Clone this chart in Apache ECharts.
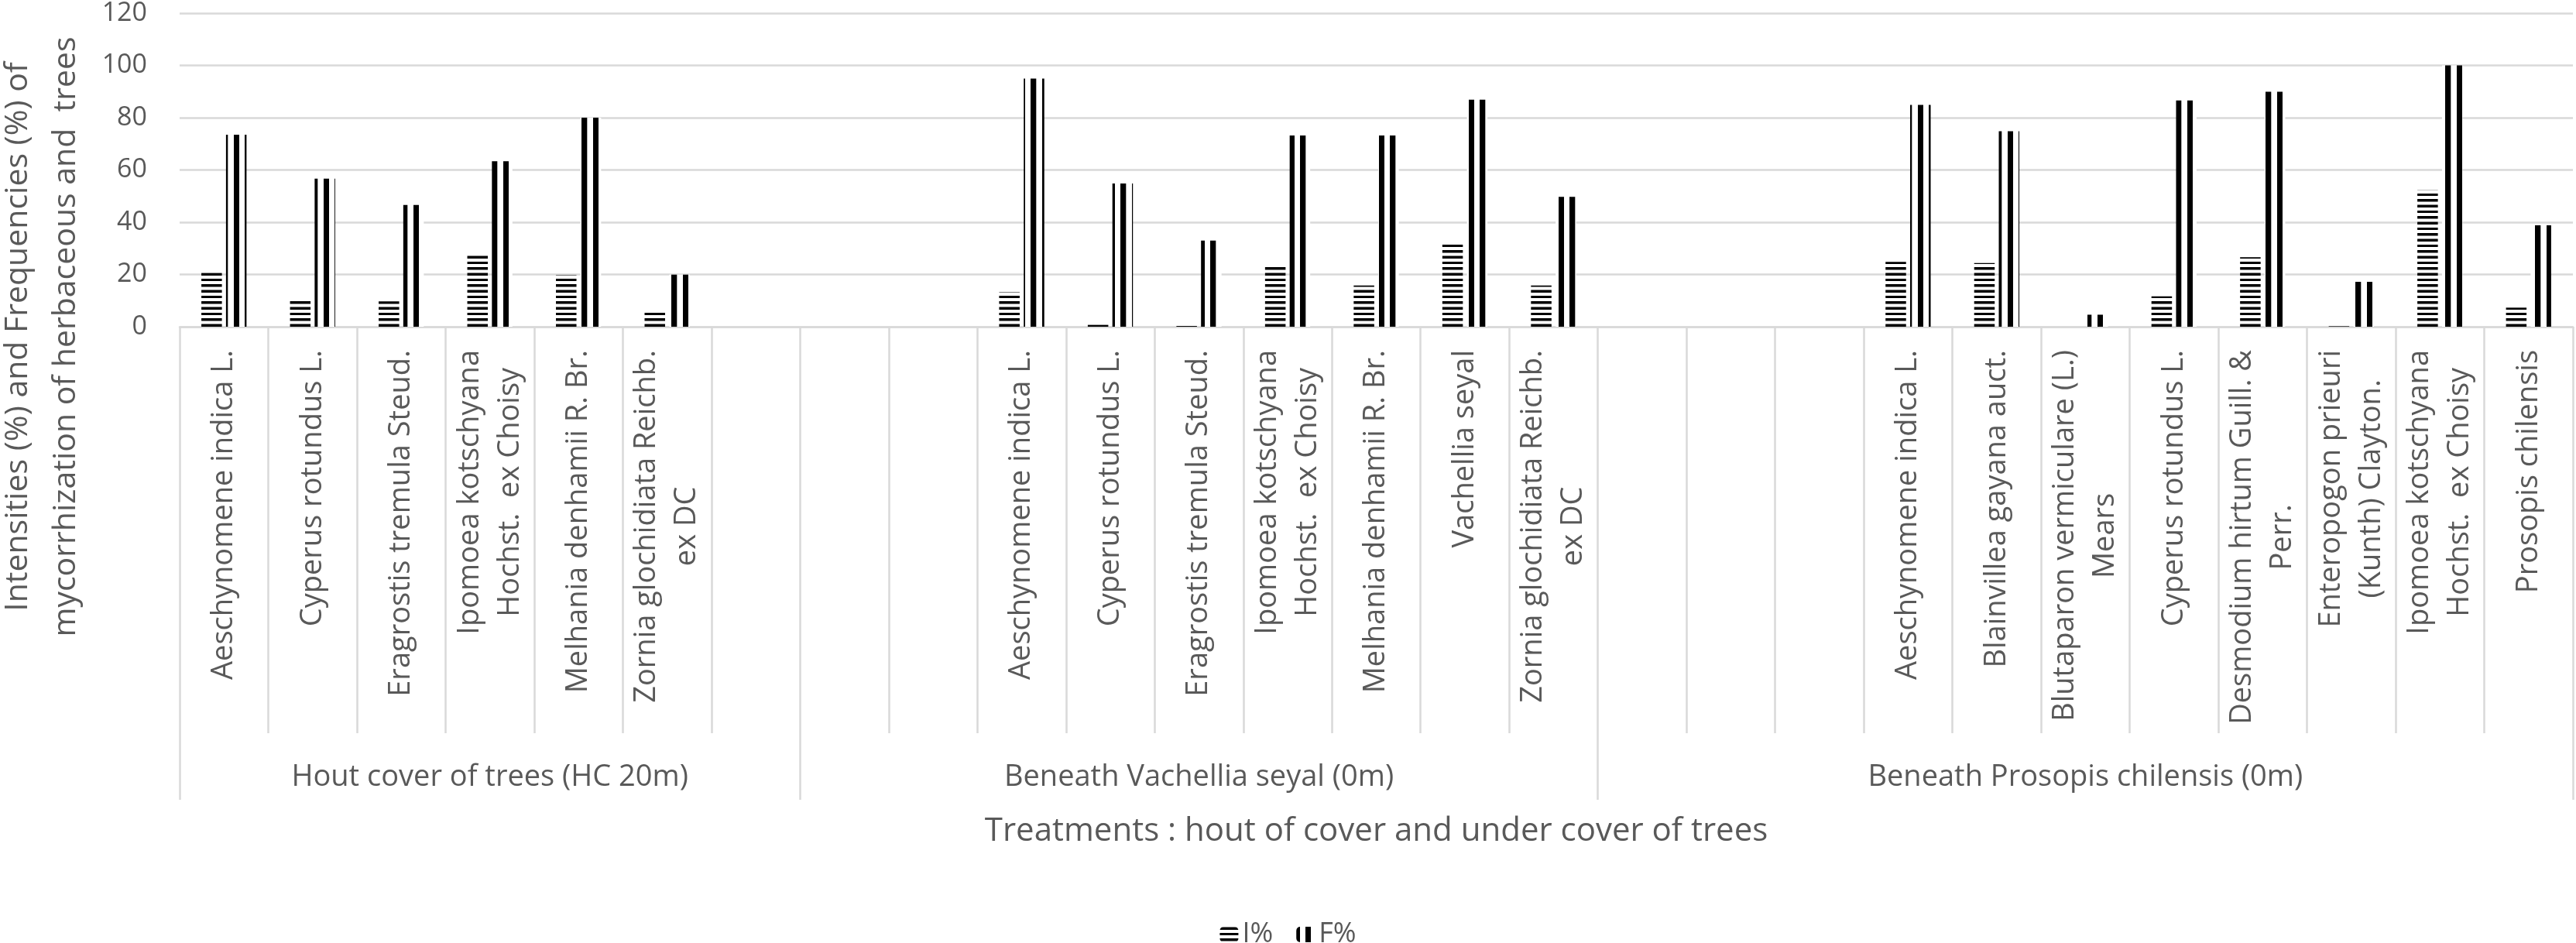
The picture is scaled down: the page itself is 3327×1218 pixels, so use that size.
<!DOCTYPE html>
<html>
<head>
<meta charset="utf-8">
<script src="https://cdn.jsdelivr.net/npm/echarts@6/dist/echarts.min.js"></script>
<style>
html,body{margin:0;padding:0;background:#fff;}
#chart{width:3327px;height:1218px;}
</style>
</head>
<body>
<div id="chart"></div>
<script>
// ---------------- DATA ----------------
const categories = [
  // Hout cover of trees (HC 20m)
  'Aeschynomene indica L.', 'Cyperus rotundus L.', 'Eragrostis tremula Steud.',
  'Ipomoea kotschyana\nHochst.  ex Choisy', 'Melhania denhamii R. Br.',
  'Zornia glochidiata Reichb.\nex DC', '',
  // Beneath Vachellia seyal (0m)
  '', '', 'Aeschynomene indica L.', 'Cyperus rotundus L.', 'Eragrostis tremula Steud.',
  'Ipomoea kotschyana\nHochst.  ex Choisy', 'Melhania denhamii R. Br.', 'Vachellia seyal',
  'Zornia glochidiata Reichb.\nex DC',
  // Beneath Prosopis chilensis (0m)
  '', '', '', 'Aeschynomene indica L.', 'Blainvillea gayana auct.',
  'Blutaparon vermiculare (L.)\nMears', 'Cyperus rotundus L.', 'Desmodium hirtum Guill. &\nPerr.',
  'Enteropogon prieuri\n(Kunth) Clayton.', 'Ipomoea kotschyana\nHochst.  ex Choisy', 'Prosopis chilensis'
];
const iValues = [
  20.7, 10.0, 9.7, 27.4, 19.7, 5.5, null,
  null, null, 13.2, 0.7, 0.3, 24.0, 15.8, 31.5, 15.8,
  null, null, null, 24.8, 24.4, 0, 11.6, 26.6, 0.2, 52.2, 7.3
];
const fValues = [
  73.5, 56.7, 46.6, 63.3, 80.0, 19.9, null,
  null, null, 95.0, 54.8, 33.0, 73.2, 73.2, 86.9, 49.7,
  null, null, null, 84.9, 74.8, 4.6, 86.6, 89.9, 17.2, 100, 38.8
];
const groupNames = ['Hout cover of trees (HC 20m)', 'Beneath Vachellia seyal (0m)', 'Beneath Prosopis chilensis (0m)'];
const groupSizes = [7, 9, 11];
const seriesNames = ['I%', 'F%'];
const yTitle = 'Intensities (%) and Frequencies (%) of\nmycorrhization of herbaceous and  trees';
const xTitle = 'Treatments : hout of cover and under cover of trees';

// ---------------- HELPERS ----------------
const FONT = "'Open Sans', 'Noto Sans', sans-serif";
const TXT = '#595959';
const GRID = '#d9d9d9';

const groupStarts = [];
const groupSlotLabels = categories.map(() => '');
(function () {
  let s = 0;
  groupSizes.forEach((n, g) => {
    groupStarts.push(s);
    groupSlotLabels[s + Math.floor(n / 2)] = groupNames[g];
    s += n;
  });
})();

function hPattern() {
  const c = document.createElement('canvas');
  c.width = 3; c.height = 22;
  const x = c.getContext('2d');
  x.fillStyle = '#fff'; x.fillRect(0, 0, 3, 22);
  x.fillStyle = '#000'; x.fillRect(0, 0, 3, 10);
  return { image: c, repeat: 'repeat', scaleX: 1 / 3, scaleY: 1 / 3, x: 0, y: 0.5 };
}
function vPattern() {
  const c = document.createElement('canvas');
  c.width = 58; c.height = 4;
  const x = c.getContext('2d');
  x.fillStyle = '#fff'; x.fillRect(0, 0, 58, 4);
  x.fillStyle = '#000'; x.fillRect(0, 0, 29, 4);
  return { image: c, repeat: 'repeat', scaleX: 0.25, scaleY: 0.25, x: 11.7, y: 0 };
}

const chart = echarts.init(document.getElementById('chart'), null, { renderer: 'canvas' });

const option = {
  animation: false,
  backgroundColor: '#ffffff',
  textStyle: { fontFamily: FONT },
  grid: { left: 232, right: 4, top: 16, bottom: 796, containLabel: false },
  legend: {
    data: seriesNames,
    left: 'center',
    top: 1184,
    itemWidth: 24,
    itemHeight: 20,
    itemGap: 30,
    textStyle: { fontFamily: FONT, fontSize: 36, color: TXT, lineHeight: 36 }
  },
  graphic: [{
    type: 'text',
    x: 54,
    y: 435,
    rotation: Math.PI / 2,
    style: {
      text: yTitle,
      font: '41px ' + FONT,
      fill: TXT,
      align: 'center',
      verticalAlign: 'middle',
      textAlign: 'center',
      textVerticalAlign: 'middle',
      lineHeight: 62
    }
  }],
  xAxis: [
    {
      type: 'category',
      data: categories,
      axisLine: { show: true, lineStyle: { color: GRID, width: 2.5 } },
      axisTick: { show: true, interval: 0, length: 525, lineStyle: { color: GRID, width: 2.5 } },
      axisLabel: {
        interval: 0,
        rotate: 90,
        margin: 30,
        formatter: function (v) {
          if (!v) return '';
          return v.split('\n').map(s => '{a|' + s + '}').join('\n');
        },
        rich: {
          a: { align: 'center', fontFamily: FONT, fontSize: 38, color: TXT, lineHeight: 52 }
        }
      },
      splitLine: { show: false }
    },
    {
      type: 'category',
      data: categories,
      position: 'bottom',
      axisLine: { show: false },
      axisTick: {
        show: true,
        interval: function (i) { return groupStarts.indexOf(i) >= 0; },
        length: 611,
        lineStyle: { color: GRID, width: 2.5 }
      },
      axisLabel: {
        interval: 0,
        margin: 582,
        verticalAlign: 'middle',
        fontFamily: FONT,
        fontSize: 38,
        color: TXT,
        formatter: function (v, i) { return groupSlotLabels[i] || ''; }
      },
      splitLine: { show: false },
      name: xTitle,
      nameLocation: 'middle',
      nameGap: 652,
      nameTextStyle: { fontFamily: FONT, fontSize: 42, color: TXT, verticalAlign: 'middle' }
    }
  ],
  yAxis: {
    type: 'value',
    min: 0,
    max: 120,
    interval: 20,
    axisLine: { show: false },
    axisTick: { show: false },
    axisLabel: { margin: 42, fontFamily: FONT, fontSize: 34, color: TXT },
    splitLine: { show: true, lineStyle: { color: GRID, width: 2.5 } }
  },
  series: [
    {
      name: seriesNames[0],
      type: 'bar',
      data: iValues,
      barWidth: 26.5,
      barGap: '20%',
      itemStyle: { color: hPattern() },
      emphasis: { disabled: true }
    },
    {
      name: seriesNames[1],
      type: 'bar',
      data: fValues,
      barWidth: 26.5,
      barGap: '20%',
      itemStyle: { color: vPattern() },
      emphasis: { disabled: true }
    }
  ]
};
chart.setOption(option);
</script>
</body>
</html>
